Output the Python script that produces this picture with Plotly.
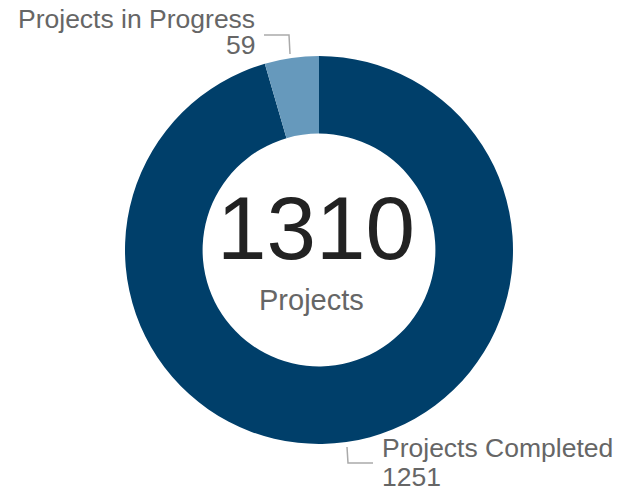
import plotly.graph_objects as go

labels = ["Projects Completed", "Projects in Progress"]
values = [1251, 59]
colors = ["#003f6a", "#6699bc"]
total_label = "Projects"

W, H = 617, 492
def px(x):
    return x / W
def py(y):
    return 1 - y / H

cx, cy, r = 319, 250, 194

fig = go.Figure(go.Pie(
    labels=labels, values=values, hole=0.6, sort=False, direction="clockwise",
    rotation=0, marker=dict(colors=colors, line=dict(width=0)),
    textinfo="none", showlegend=False,
    domain=dict(x=[px(cx - r), px(cx + r)], y=[py(cy + r), py(cy - r)]),
))

font = "Liberation Sans, Arial, sans-serif"
lab_size = 26.5
ann = []
ann.append(dict(text=str(sum(values)), x=px(316), y=py(228), xref="paper", yref="paper",
                showarrow=False, font=dict(family=font, size=89, color="#222222"),
                xanchor="center", yanchor="middle"))
ann.append(dict(text=total_label, x=px(312), y=py(300), xref="paper", yref="paper",
                showarrow=False, font=dict(family=font, size=29, color="#666666"),
                xanchor="center", yanchor="middle"))

def label(text, x, y, anchor):
    return dict(text=text, x=px(x), y=py(y), xref="paper", yref="paper",
                showarrow=False, font=dict(family=font, size=lab_size, color="#666666"),
                xanchor=anchor, yanchor="middle", borderpad=0)

ann.append(label(labels[1], 256, 19, "right"))
ann.append(label(str(values[1]), 256, 45, "right"))
ann.append(label(labels[0], 381, 448, "left"))
ann.append(label(str(values[0]), 381, 477, "left"))

shapes = [
    dict(type="path", xref="paper", yref="paper",
         path=f"M {px(264)} {py(35)} L {px(289)} {py(35)} L {px(290)} {py(54)}",
         line=dict(color="#aaaaaa", width=1.5)),
    dict(type="path", xref="paper", yref="paper",
         path=f"M {px(347)} {py(447)} L {px(348)} {py(463)} L {px(373)} {py(463)}",
         line=dict(color="#aaaaaa", width=1.5)),
]

fig.update_layout(width=W, height=H, margin=dict(l=0, r=0, t=0, b=0),
                  paper_bgcolor="white", plot_bgcolor="white",
                  annotations=ann, shapes=shapes)
fig.write_html("out.html", config=dict(displayModeBar=False),
               post_script="document.body.style.margin='0';document.body.style.overflow='hidden';")
